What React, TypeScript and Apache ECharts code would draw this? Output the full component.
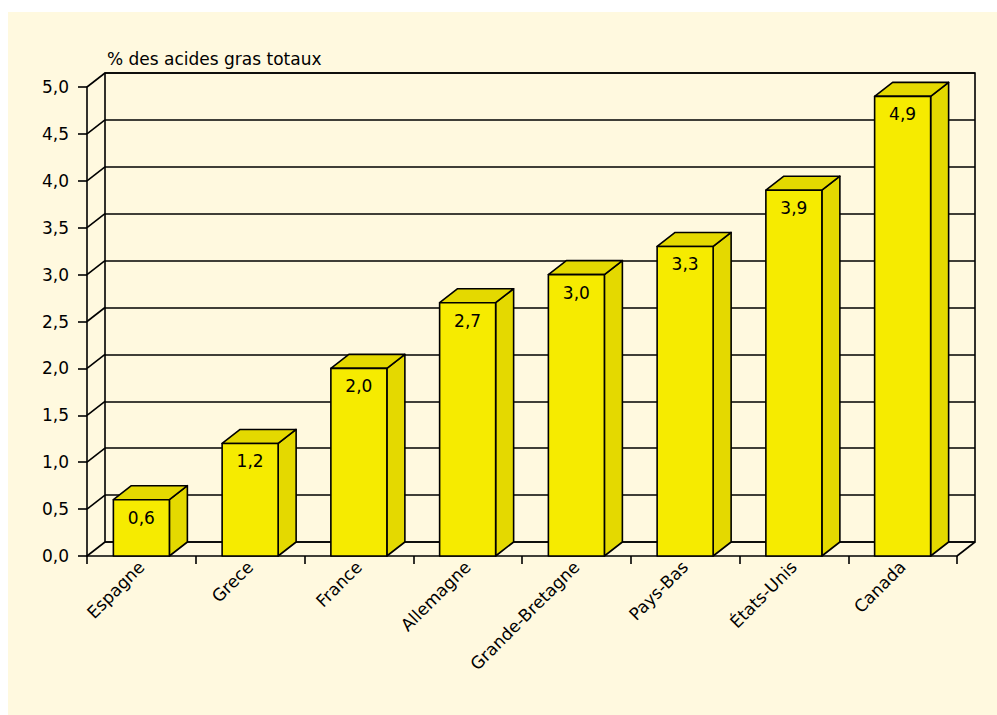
import React, { useEffect, useRef } from "react";
import * as echarts from "echarts";

const countries = ["Espagne", "Grece", "France", "Allemagne", "Grande-Bretagne", "Pays-Bas", "États-Unis", "Canada"];
const values = [0.6, 1.2, 2.0, 2.7, 3.0, 3.3, 3.9, 4.9];
const yTicks = [0, 0.5, 1, 1.5, 2, 2.5, 3, 3.5, 4, 4.5, 5];
const yTitle = "% des acides gras totaux";

const DX = 18;
const DY = 14;
const FRONT = "#F6EB00";
const SIDE = "#E4D900";
const BG = "#FFF9DF";
const FONT = "DejaVu Sans";
const LW = 1.6;

const fmt = (v: number) => v.toFixed(1).replace(".", ",");

export default function App() {
  const ref = useRef<HTMLDivElement>(null);
  useEffect(() => {
    if (!ref.current) return;
    const chart = echarts.init(ref.current, undefined, { renderer: "svg" });
    chart.setOption({
      animation: false,
      backgroundColor: "#ffffff",
      graphic: [
        { type: "rect", z: -10, shape: { x: 8, y: 12, width: 989, height: 703 }, style: { fill: BG } },
      ],
      title: {
        text: yTitle,
        left: 102,
        top: 45,
        textStyle: { fontFamily: FONT, fontSize: 17, fontWeight: "normal", color: "#000" },
      },
      grid: [
        { left: 87, top: 87, width: 870, height: 469 },
        { left: 87 + DX, top: 87 - DY, width: 870, height: 469, show: true, borderColor: "#000", borderWidth: LW, backgroundColor: "transparent" },
      ],
      xAxis: [
        {
          gridIndex: 0,
          type: "category",
          data: countries,
          axisLine: { show: true, lineStyle: { color: "#000", width: LW } },
          axisTick: { show: true, length: 8, lineStyle: { color: "#000", width: LW } },
          axisLabel: { interval: 0, rotate: 45, margin: 8, fontFamily: FONT, fontSize: 17, color: "#000" },
          splitLine: { show: false },
        },
        {
          gridIndex: 1,
          type: "category",
          data: countries,
          show: false,
        },
      ],
      yAxis: [
        {
          gridIndex: 0,
          type: "value",
          min: 0,
          max: 5,
          interval: 0.5,
          axisLine: { show: true, lineStyle: { color: "#000", width: LW } },
          axisTick: { show: true, length: 9, lineStyle: { color: "#000", width: LW } },
          axisLabel: { margin: 18, fontFamily: FONT, fontSize: 17, color: "#000", formatter: (v: number) => fmt(v) },
          splitLine: { show: false },
        },
        {
          gridIndex: 1,
          type: "value",
          min: 0,
          max: 5,
          interval: 0.5,
          axisLine: { show: false },
          axisTick: { show: false },
          axisLabel: { show: false },
          splitLine: { show: true, lineStyle: { color: "#000", width: LW } },
        },
      ],
      series: [
        {
          type: "custom",
          xAxisIndex: 0,
          yAxisIndex: 0,
          data: yTicks.map((v) => [0, v]),
          renderItem: (params: any, api: any) => {
            const v = api.value(1);
            const p = api.coord([0, v]);
            const bw = api.size([1, 0])[0];
            const left = p[0] - bw / 2;
            const children: any[] = [
              { type: "line", shape: { x1: left, y1: p[1], x2: left + DX, y2: p[1] - DY }, style: { stroke: "#000", lineWidth: LW } },
            ];
            if (v === 0) {
              const r = api.coord([countries.length - 1, 0])[0] + bw / 2;
              children.push({ type: "line", shape: { x1: r, y1: p[1], x2: r + DX, y2: p[1] - DY }, style: { stroke: "#000", lineWidth: LW } });
            }
            return { type: "group", children };
          },
          silent: true,
        },
        {
          type: "custom",
          xAxisIndex: 0,
          yAxisIndex: 0,
          data: values.map((v, i) => [i, v]),
          renderItem: (params: any, api: any) => {
            const i = api.value(0);
            const v = api.value(1);
            const top = api.coord([i, v]);
            const base = api.coord([i, 0]);
            const bw = api.size([1, 0])[0];
            const w = bw * 0.515;
            const x0 = top[0] - w / 2;
            const x1 = x0 + w;
            const stroke = { stroke: "#000", lineWidth: LW, lineJoin: "round" };
            return {
              type: "group",
              children: [
                {
                  type: "polygon",
                  shape: { points: [[x1, top[1]], [x1 + DX, top[1] - DY], [x1 + DX, base[1] - DY], [x1, base[1]]] },
                  style: { fill: SIDE, ...stroke },
                },
                {
                  type: "polygon",
                  shape: { points: [[x0, top[1]], [x0 + DX, top[1] - DY], [x1 + DX, top[1] - DY], [x1, top[1]]] },
                  style: { fill: SIDE, ...stroke },
                },
                {
                  type: "rect",
                  shape: { x: x0, y: top[1], width: w, height: base[1] - top[1] },
                  style: { fill: FRONT, ...stroke },
                },
                {
                  type: "text",
                  x: top[0],
                  y: top[1] + 18,
                  style: { text: fmt(v), fontFamily: FONT, fontSize: 17, fill: "#000", align: "center", verticalAlign: "middle" },
                },
              ],
            };
          },
          silent: true,
        },
      ],
    });
    return () => chart.dispose();
  }, []);
  return <div ref={ref} style={{ position: "fixed", left: 0, top: 0, width: 997, height: 715 }} />;
}
